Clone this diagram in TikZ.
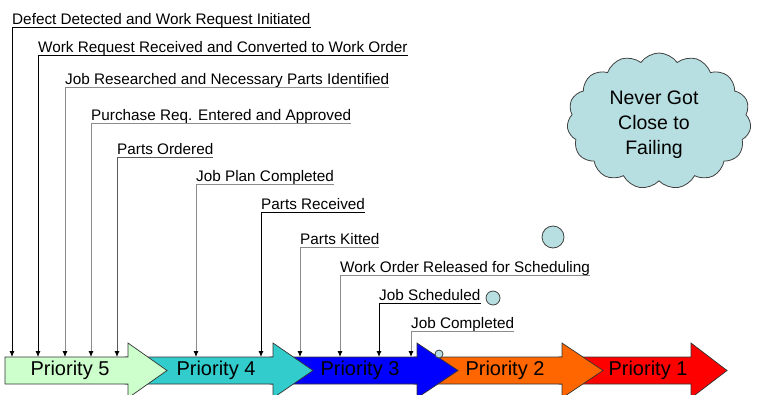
\documentclass[tikz,border=0pt]{standalone}
\usepackage{fontspec}
\setmainfont{Liberation Sans}
\usetikzlibrary{shapes.symbols, arrows.meta}

\definecolor{mint}{HTML}{CCFFCC}
\definecolor{teal4}{HTML}{33CCCC}
\definecolor{blue3}{HTML}{0000FF}
\definecolor{orange2}{HTML}{FF6600}
\definecolor{red1}{HTML}{FF0000}
\definecolor{puff}{HTML}{B7DEE0}

\begin{document}
\begin{tikzpicture}[
        x=1pt, y=-1pt,
        step label/.style={inner sep=0pt, text height=11pt, text depth=2.5pt, anchor=south west, font=\fontsize{15.3}{18}\selectfont},
        lead/.style={draw=gray!90, line width=0.9pt, -{Latex[black, length=6pt, width=5pt]}},
        lead dark/.style={lead, draw=black},
        band/.style={draw=black!80, line width=0.7pt},
        prio/.style={inner sep=0pt, font=\fontsize{20}{24}\selectfont},
        bubble/.style={draw=black!75, fill=puff, line width=0.8pt}
    ]
        \clip (0,0) rectangle (759,394);
        \useasboundingbox (0,0) rectangle (759,394);

        % Priority band, drawn right to left so each head lies on the next
        \filldraw[band, fill=red1] (559,357) -- (691,357) -- (691,343) -- (727,370.5) -- (691,398) -- (691,384) -- (559,384) -- cycle;
        \filldraw[band, fill=orange2] (414,357) -- (562,357) -- (562,343) -- (603,370.5) -- (562,398) -- (562,384) -- (414,384) -- cycle;
        \filldraw[band, fill=blue3] (270,357) -- (417,357) -- (417,343) -- (458,370.5) -- (417,398) -- (417,384) -- (270,384) -- cycle;
        \filldraw[band, fill=teal4] (125,357) -- (273,357) -- (273,343) -- (313,370.5) -- (273,398) -- (273,384) -- (125,384) -- cycle;
        \filldraw[band, fill=mint] (5,357) -- (128,357) -- (128,343) -- (167,370.5) -- (128,398) -- (128,384) -- (5,384) -- cycle;
        \coordinate (top) at (0,357);

        \node[prio] (p5) at (70,370.5) {Priority 5};
        \node[prio] (p4) at (216,370.5) {Priority 4};
        \node[prio] (p3) at (360,370.5) {Priority 3};
        \node[prio] (p2) at (505,370.5) {Priority 2};
        \node[prio] (p1) at (648,370.5) {Priority 1};

        % Steps along the way
        \node[step label] (defect) at (12,27) {Defect Detected and Work Request Initiated};
        \node[step label] (request) at (38,55) {Work Request Received and Converted to Work Order};
        \node[step label] (research) at (65,87) {Job Researched and Necessary Parts Identified};
        \node[step label] (purchase) at (91,123) {Purchase Req. Entered and Approved};
        \node[step label] (ordered) at (117,157) {Parts Ordered};
        \node[step label] (plan) at (196,184) {Job Plan Completed};
        \node[step label] (received) at (261,212) {Parts Received};
        \node[step label] (kitted) at (300,247) {Parts Kitted};
        \node[step label] (released) at (340,275) {Work Order Released for Scheduling};
        \node[step label] (scheduled) at (379,303) {Job Scheduled};
        \node[step label] (completed) at (411,331) {Job Completed};

        % Leads down to the band
        \draw[lead dark] (defect.south east) -- (defect.south west) -- (defect.south west |- top);
        \draw[lead dark] (request.south east) -- (request.south west) -- (request.south west |- top);
        \draw[lead] (research.south east) -- (research.south west) -- (research.south west |- top);
        \draw[lead] (purchase.south east) -- (purchase.south west) -- (purchase.south west |- top);
        \draw[lead, draw=gray!70!black] (ordered.south east) -- (ordered.south west) -- (ordered.south west |- top);
        \draw[lead] (plan.south east) -- (plan.south west) -- (plan.south west |- top);
        \draw[lead dark] (received.south east) -- (received.south west) -- (received.south west |- top);
        \draw[lead] (kitted.south east) -- (kitted.south west) -- (kitted.south west |- top);
        \draw[lead] (released.south east) -- (released.south west) -- (released.south west |- top);
        \draw[lead dark] (scheduled.south east) -- (scheduled.south west) -- (scheduled.south west |- top);
        \draw[lead] (completed.south east) -- (completed.south west) -- (completed.south west |- top);

        % Thought bubble
        \node[bubble, cloud, cloud puffs=15, cloud puff arc=110, aspect=1.4, minimum width=184pt, minimum height=136pt, inner sep=0pt] (never) at (659,121) {};
        \node[align=center, inner sep=0pt, font=\fontsize{19.5}{25}\selectfont] (never text) at (654,125) {Never Got\\Close to\\Failing};
        \filldraw[bubble] (553,237) circle (11);
        \filldraw[bubble] (493,298) circle (7);
        \filldraw[bubble] (439,354) circle (4);
    \end{tikzpicture}
\end{document}
